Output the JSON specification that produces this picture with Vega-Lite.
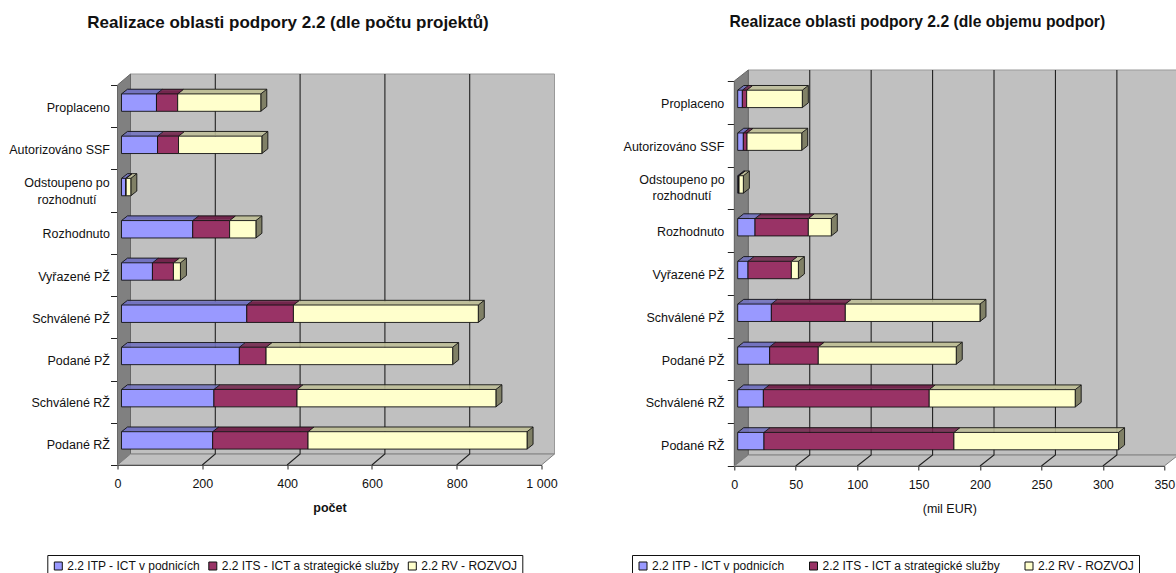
{"$schema":"https://vega.github.io/schema/vega-lite/v6.json","background":"white","autosize":{"type":"none"},"bounds":"flush","spacing":192.8,"padding":{"left":117.5,"top":81,"right":1058.5,"bottom":492},
"config":{"view":{"stroke":null},"font":"Liberation Sans","axis":{"labelFont":"Liberation Sans","titleFont":"Liberation Sans","labelFontSize":12.5,"titleFontSize":12.5,"labelColor":"#111","titleColor":"#111","grid":false,"domainColor":"#222","tickColor":"#222"},"legend":{"labelFont":"Liberation Sans","labelFontSize":12,"labelColor":"#111"},"title":{"font":"Liberation Sans","fontWeight":"bold","color":"#111"}},
"datasets":{"a":[
{"cat":"Proplaceno","series":"2.2 ITP - ICT v podnicích","v":82.5},{"cat":"Proplaceno","series":"2.2 ITS - ICT a strategické služby","v":50},{"cat":"Proplaceno","series":"2.2 RV - ROZVOJ","v":196},
{"cat":"Autorizováno SSF","series":"2.2 ITP - ICT v podnicích","v":85},{"cat":"Autorizováno SSF","series":"2.2 ITS - ICT a strategické služby","v":49.5},{"cat":"Autorizováno SSF","series":"2.2 RV - ROZVOJ","v":196.5},
{"cat":"Odstoupeno po rozhodnutí","series":"2.2 ITP - ICT v podnicích","v":10},{"cat":"Odstoupeno po rozhodnutí","series":"2.2 ITS - ICT a strategické služby","v":1},{"cat":"Odstoupeno po rozhodnutí","series":"2.2 RV - ROZVOJ","v":11},
{"cat":"Rozhodnuto","series":"2.2 ITP - ICT v podnicích","v":168},{"cat":"Rozhodnuto","series":"2.2 ITS - ICT a strategické služby","v":87},{"cat":"Rozhodnuto","series":"2.2 RV - ROZVOJ","v":62},
{"cat":"Vyřazené PŽ","series":"2.2 ITP - ICT v podnicích","v":73},{"cat":"Vyřazené PŽ","series":"2.2 ITS - ICT a strategické služby","v":49.5},{"cat":"Vyřazené PŽ","series":"2.2 RV - ROZVOJ","v":16.5},
{"cat":"Schválené PŽ","series":"2.2 ITP - ICT v podnicích","v":295.5},{"cat":"Schválené PŽ","series":"2.2 ITS - ICT a strategické služby","v":110},{"cat":"Schválené PŽ","series":"2.2 RV - ROZVOJ","v":436},
{"cat":"Podané PŽ","series":"2.2 ITP - ICT v podnicích","v":278},{"cat":"Podané PŽ","series":"2.2 ITS - ICT a strategické služby","v":63},{"cat":"Podané PŽ","series":"2.2 RV - ROZVOJ","v":440},
{"cat":"Schválené RŽ","series":"2.2 ITP - ICT v podnicích","v":218},{"cat":"Schválené RŽ","series":"2.2 ITS - ICT a strategické služby","v":196},{"cat":"Schválené RŽ","series":"2.2 RV - ROZVOJ","v":469},
{"cat":"Podané RŽ","series":"2.2 ITP - ICT v podnicích","v":215},{"cat":"Podané RŽ","series":"2.2 ITS - ICT a strategické služby","v":225},{"cat":"Podané RŽ","series":"2.2 RV - ROZVOJ","v":516.5}],
"b":[
{"cat":"Proplaceno","series":"2.2 ITP - ICT v podnicích","v":3.8},{"cat":"Proplaceno","series":"2.2 ITS - ICT a strategické služby","v":3.5},{"cat":"Proplaceno","series":"2.2 RV - ROZVOJ","v":45.3},
{"cat":"Autorizováno SSF","series":"2.2 ITP - ICT v podnicích","v":4.6},{"cat":"Autorizováno SSF","series":"2.2 ITS - ICT a strategické služby","v":3},{"cat":"Autorizováno SSF","series":"2.2 RV - ROZVOJ","v":44.5},
{"cat":"Odstoupeno po rozhodnutí","series":"2.2 ITP - ICT v podnicích","v":0.8},{"cat":"Odstoupeno po rozhodnutí","series":"2.2 ITS - ICT a strategické služby","v":0.3},{"cat":"Odstoupeno po rozhodnutí","series":"2.2 RV - ROZVOJ","v":3.5},
{"cat":"Rozhodnuto","series":"2.2 ITP - ICT v podnicích","v":14.1},{"cat":"Rozhodnuto","series":"2.2 ITS - ICT a strategické služby","v":43.4},{"cat":"Rozhodnuto","series":"2.2 RV - ROZVOJ","v":18.7},
{"cat":"Vyřazené PŽ","series":"2.2 ITP - ICT v podnicích","v":8.4},{"cat":"Vyřazené PŽ","series":"2.2 ITS - ICT a strategické služby","v":35.3},{"cat":"Vyřazené PŽ","series":"2.2 RV - ROZVOJ","v":5.7},
{"cat":"Schválené PŽ","series":"2.2 ITP - ICT v podnicích","v":27.4},{"cat":"Schválené PŽ","series":"2.2 ITS - ICT a strategické služby","v":60.2},{"cat":"Schválené PŽ","series":"2.2 RV - ROZVOJ","v":109.6},
{"cat":"Podané PŽ","series":"2.2 ITP - ICT v podnicích","v":26},{"cat":"Podané PŽ","series":"2.2 ITS - ICT a strategické služby","v":39.6},{"cat":"Podané PŽ","series":"2.2 RV - ROZVOJ","v":112.3},
{"cat":"Schválené RŽ","series":"2.2 ITP - ICT v podnicích","v":20.9},{"cat":"Schválené RŽ","series":"2.2 ITS - ICT a strategické služby","v":135},{"cat":"Schválené RŽ","series":"2.2 RV - ROZVOJ","v":118.8},
{"cat":"Podané RŽ","series":"2.2 ITP - ICT v podnicích","v":21.4},{"cat":"Podané RŽ","series":"2.2 ITS - ICT a strategické služby","v":154.6},{"cat":"Podané RŽ","series":"2.2 RV - ROZVOJ","v":134}]},
"resolve":{"scale":{"x":"independent","y":"independent","fill":"independent","stroke":"independent"},"legend":{"fill":"independent"}},
"hconcat":[
{"title":{"text":"Realizace oblasti podpory 2.2 (dle počtu projektů)","dx":-41.5,"offset":40,"fontSize":17},"width":424,"height":384,
"layer":[
{"data":{"values":[{}]},"mark":{"type":"point","shape":"M-199,-199L225,-199L225,181L-199,181Z","size":4,"filled":true,"fill":"#C0C0C0","stroke":"#999","strokeWidth":1,"opacity":1},"encoding":{}},
{"data":{"values":[{}]},"mark":{"type":"point","shape":"M-212,-188L-199,-199L-199,181L-212,192Z","size":4,"filled":true,"fill":"#808080","stroke":"#666","strokeWidth":1,"opacity":1},"encoding":{}},
{"data":{"values":[{}]},"mark":{"type":"point","shape":"M-212,192L212,192L225,181L-199,181Z","size":4,"filled":true,"fill":"#C0C0C0","stroke":"#808080","strokeWidth":1,"opacity":1},"encoding":{}},
{"data":{"values":[{"t":200},{"t":400},{"t":600},{"t":800}]},"mark":{"type":"point","shape":"M0,192L13,181L13,-199","size":4,"filled":false,"stroke":"#222","strokeWidth":1.1,"opacity":1},"encoding":{"x":{"field":"t","type":"quantitative","scale":{"domain":[0,1000],"nice":false}}}},
{"data":{"name":"a"},"transform":[{"stack":"v","groupby":["cat"],"sort":[{"field":"series"}],"as":["x0","x1"]}],
"encoding":{"y":{"field":"cat","type":"nominal","sort":null,"title":null,"scale":{"domain":["Proplaceno","Autorizováno SSF","Odstoupeno po rozhodnutí","Rozhodnuto","Vyřazené PŽ","Schválené PŽ","Podané PŽ","Schválené RŽ","Podané RŽ"],"range":[4,384],"paddingInner":0,"paddingOuter":0},"axis":{"tickBand":"extent","tickSize":7,"labelPadding":1,"labelOffset":1,"labelExpr":"datum.label=='Odstoupeno po rozhodnutí'?'':datum.label","labelLimit":120}}},
"layer":[
{"mark":{"type":"rule","xOffset":4.6,"x2Offset":4.6,"yOffset":-12.7,"strokeWidth":1.2},"encoding":{"x":{"field":"x0","type":"quantitative","scale":{"domain":[0,1000],"nice":false},"title":"počet","axis":{"values":[0,200,400,600,800,1000],"labelExpr":"datum.value==1000?'1 000':datum.label","labelOverlap":false,"labelBound":false,"labelFlush":false,"tickSize":4,"labelPadding":8,"titlePadding":12,"titleFontWeight":"bold"}},"x2":{"field":"x1"},"stroke":{"field":"series","type":"nominal","legend":null,"scale":{"domain":["2.2 RV - ROZVOJ","2.2 ITS - ICT a strategické služby","2.2 ITP - ICT v podnicích"],"range":["#BFBF99","#73264D","#7373BF"]}}}},
{"mark":{"type":"rule","xOffset":5.8,"x2Offset":5.8,"yOffset":-13.6,"strokeWidth":1.2},"encoding":{"x":{"field":"x0","type":"quantitative"},"x2":{"field":"x1"},"stroke":{"field":"series","type":"nominal","legend":null}}},
{"mark":{"type":"rule","xOffset":7,"x2Offset":7,"yOffset":-14.5,"strokeWidth":1.2},"encoding":{"x":{"field":"x0","type":"quantitative"},"x2":{"field":"x1"},"stroke":{"field":"series","type":"nominal","legend":null}}},
{"mark":{"type":"rule","xOffset":8.2,"x2Offset":8.2,"yOffset":-15.4,"strokeWidth":1.2},"encoding":{"x":{"field":"x0","type":"quantitative"},"x2":{"field":"x1"},"stroke":{"field":"series","type":"nominal","legend":null}}},
{"mark":{"type":"rule","xOffset":9.4,"x2Offset":9.4,"yOffset":-16.4,"strokeWidth":1.2},"encoding":{"x":{"field":"x0","type":"quantitative"},"x2":{"field":"x1"},"stroke":{"field":"series","type":"nominal","legend":null}}},
{"mark":{"type":"rule","xOffset":10,"x2Offset":10,"yOffset":-16.9,"strokeWidth":0.9,"stroke":"#111"},"encoding":{"x":{"field":"x0","type":"quantitative"},"x2":{"field":"x1"}}},
{"mark":{"type":"point","shape":"M4,-12.2L10,-16.9","size":4,"filled":false,"stroke":"#111","strokeWidth":0.9,"opacity":1},"encoding":{"x":{"field":"x0","type":"quantitative"}}},
{"transform":[{"filter":"datum.series=='2.2 RV - ROZVOJ'"}],"mark":{"type":"point","shape":"M4,-12.2L10,-16.9L10,0.5L4,5.2Z","size":4,"filled":true,"fill":"#808066","stroke":"#111","strokeWidth":0.9,"opacity":1},"encoding":{"x":{"field":"x1","type":"quantitative"}}},
{"mark":{"type":"bar","size":17.4,"xOffset":4,"x2Offset":4,"yOffset":-3.5,"stroke":"#111","strokeWidth":0.9},"encoding":{"x":{"field":"x0","type":"quantitative"},"x2":{"field":"x1"},"fill":{"field":"series","type":"nominal","scale":{"domain":["2.2 ITP - ICT v podnicích","2.2 ITS - ICT a strategické služby","2.2 RV - ROZVOJ"],"range":["#9999FF","#993366","#FFFFCC"]},"legend":{"orient":"none","legendX":-70.2,"legendY":474,"direction":"horizontal","title":null,"symbolType":"square","symbolSize":64,"symbolStrokeColor":"#111","symbolStrokeWidth":1,"strokeColor":"#111","padding":5,"columnPadding":6.5,"labelOffset":3,"labelLimit":300}}}},
{"transform":[{"filter":"datum.cat=='Odstoupeno po rozhodnutí' && datum.series=='2.2 RV - ROZVOJ'"}],"mark":{"type":"text","text":["Odstoupeno po","rozhodnutí"],"lineHeight":16.5,"font":"Liberation Sans","fontSize":12.5,"color":"#111","align":"center","baseline":"middle","dx":-50.5,"dy":-7.5},"encoding":{"x":{"datum":0,"type":"quantitative"}}}
]}]},
{"title":{"text":"Realizace oblasti podpory 2.2 (dle objemu podpor)","dx":-32,"offset":37,"fontSize":15.7},"width":430,"height":385,
"layer":[
{"data":{"values":[{}]},"mark":{"type":"point","shape":"M-201,-203.5L229,-203.5L229,181.5L-201,181.5Z","size":4,"filled":true,"fill":"#C0C0C0","stroke":"#999","strokeWidth":1,"opacity":1},"encoding":{}},
{"data":{"values":[{}]},"mark":{"type":"point","shape":"M-215,-192.5L-201,-203.5L-201,181.5L-215,192.5Z","size":4,"filled":true,"fill":"#808080","stroke":"#666","strokeWidth":1,"opacity":1},"encoding":{}},
{"data":{"values":[{}]},"mark":{"type":"point","shape":"M-215,192.5L215,192.5L229,181.5L-201,181.5Z","size":4,"filled":true,"fill":"#C0C0C0","stroke":"#808080","strokeWidth":1,"opacity":1},"encoding":{}},
{"data":{"values":[{"t":50},{"t":100},{"t":150},{"t":200},{"t":250},{"t":300}]},"mark":{"type":"point","shape":"M0,192.5L14,181.5L14,-203.5","size":4,"filled":false,"stroke":"#222","strokeWidth":1.1,"opacity":1},"encoding":{"x":{"field":"t","type":"quantitative","scale":{"domain":[0,350],"nice":false}}}},
{"data":{"name":"b"},"transform":[{"stack":"v","groupby":["cat"],"sort":[{"field":"series"}],"as":["x0","x1"]}],
"encoding":{"y":{"field":"cat","type":"nominal","sort":null,"title":null,"scale":{"domain":["Proplaceno","Autorizováno SSF","Odstoupeno po rozhodnutí","Rozhodnuto","Vyřazené PŽ","Schválené PŽ","Podané PŽ","Schválené RŽ","Podané RŽ"],"range":[0,385],"paddingInner":0,"paddingOuter":0},"axis":{"tickBand":"extent","tickSize":7,"labelPadding":3.5,"labelOffset":1,"labelExpr":"datum.label=='Odstoupeno po rozhodnutí'?'':datum.label","labelLimit":120}}},
"layer":[
{"mark":{"type":"rule","xOffset":4,"x2Offset":4,"yOffset":-12.7,"strokeWidth":1.2},"encoding":{"x":{"field":"x0","type":"quantitative","scale":{"domain":[0,350],"nice":false},"title":"(mil EUR)","axis":{"values":[0,50,100,150,200,250,300,350],"labelOverlap":false,"labelBound":false,"labelFlush":false,"tickSize":4,"labelPadding":8,"titlePadding":12,"titleFontWeight":"normal"}},"x2":{"field":"x1"},"stroke":{"field":"series","type":"nominal","legend":null,"scale":{"domain":["2.2 RV - ROZVOJ","2.2 ITS - ICT a strategické služby","2.2 ITP - ICT v podnicích"],"range":["#BFBF99","#73264D","#7373BF"]}}}},
{"mark":{"type":"rule","xOffset":5.2,"x2Offset":5.2,"yOffset":-13.6,"strokeWidth":1.2},"encoding":{"x":{"field":"x0","type":"quantitative"},"x2":{"field":"x1"},"stroke":{"field":"series","type":"nominal","legend":null}}},
{"mark":{"type":"rule","xOffset":6.4,"x2Offset":6.4,"yOffset":-14.5,"strokeWidth":1.2},"encoding":{"x":{"field":"x0","type":"quantitative"},"x2":{"field":"x1"},"stroke":{"field":"series","type":"nominal","legend":null}}},
{"mark":{"type":"rule","xOffset":7.6,"x2Offset":7.6,"yOffset":-15.4,"strokeWidth":1.2},"encoding":{"x":{"field":"x0","type":"quantitative"},"x2":{"field":"x1"},"stroke":{"field":"series","type":"nominal","legend":null}}},
{"mark":{"type":"rule","xOffset":8.8,"x2Offset":8.8,"yOffset":-16.4,"strokeWidth":1.2},"encoding":{"x":{"field":"x0","type":"quantitative"},"x2":{"field":"x1"},"stroke":{"field":"series","type":"nominal","legend":null}}},
{"mark":{"type":"rule","xOffset":9.4,"x2Offset":9.4,"yOffset":-16.9,"strokeWidth":0.9,"stroke":"#111"},"encoding":{"x":{"field":"x0","type":"quantitative"},"x2":{"field":"x1"}}},
{"mark":{"type":"point","shape":"M3.4,-12.2L9.4,-16.9","size":4,"filled":false,"stroke":"#111","strokeWidth":0.9,"opacity":1},"encoding":{"x":{"field":"x0","type":"quantitative"}}},
{"transform":[{"filter":"datum.series=='2.2 RV - ROZVOJ'"}],"mark":{"type":"point","shape":"M3.4,-12.2L9.4,-16.9L9.4,0.5L3.4,5.2Z","size":4,"filled":true,"fill":"#808066","stroke":"#111","strokeWidth":0.9,"opacity":1},"encoding":{"x":{"field":"x1","type":"quantitative"}}},
{"mark":{"type":"bar","size":17.4,"xOffset":3.4,"x2Offset":3.4,"yOffset":-3.5,"stroke":"#111","strokeWidth":0.9},"encoding":{"x":{"field":"x0","type":"quantitative"},"x2":{"field":"x1"},"fill":{"field":"series","type":"nominal","scale":{"domain":["2.2 ITP - ICT v podnicích","2.2 ITS - ICT a strategické služby","2.2 RV - ROZVOJ"],"range":["#9999FF","#993366","#FFFFCC"]},"legend":{"orient":"none","legendX":-102.3,"legendY":474,"direction":"horizontal","title":null,"symbolType":"square","symbolSize":64,"symbolStrokeColor":"#111","symbolStrokeWidth":1,"strokeColor":"#111","padding":5,"columnPadding":22.5,"labelOffset":3,"labelLimit":300}}}},
{"transform":[{"filter":"datum.cat=='Odstoupeno po rozhodnutí' && datum.series=='2.2 RV - ROZVOJ'"}],"mark":{"type":"text","text":["Odstoupeno po","rozhodnutí"],"lineHeight":16.5,"font":"Liberation Sans","fontSize":12.5,"color":"#111","align":"center","baseline":"middle","dx":-52.3,"dy":-8},"encoding":{"x":{"datum":0,"type":"quantitative"}}}
]}]}
]}
